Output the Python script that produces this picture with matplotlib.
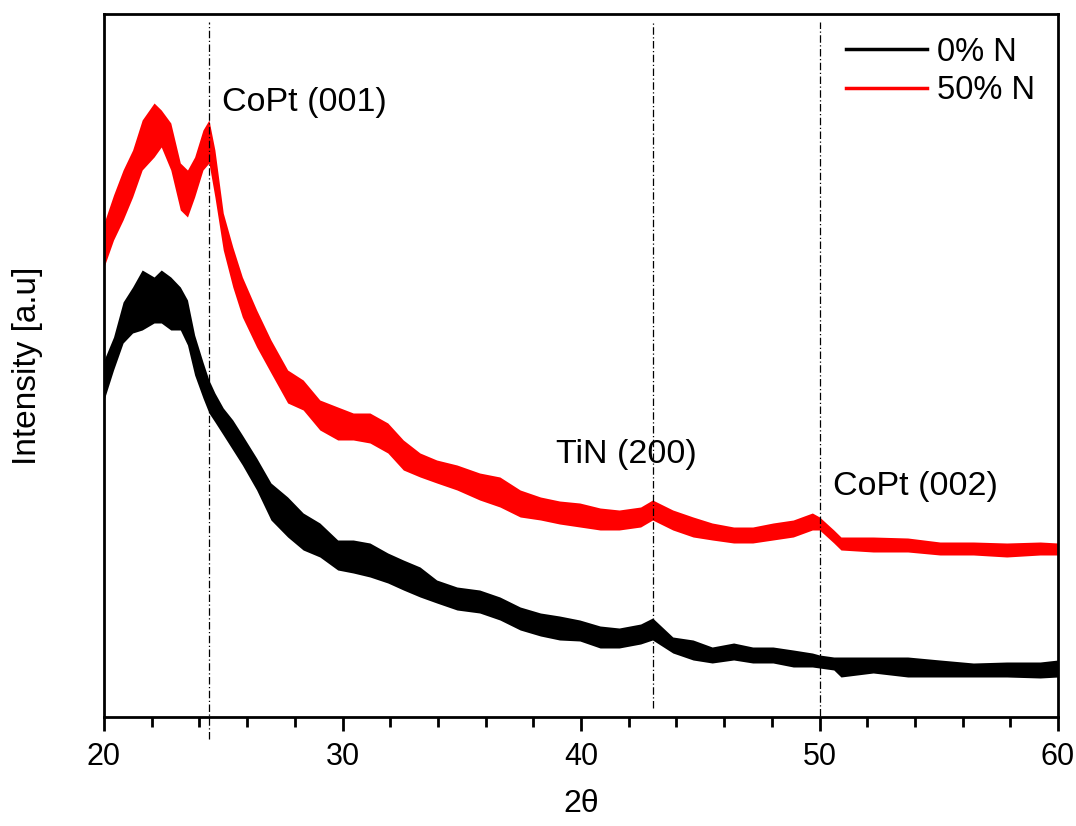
import matplotlib
matplotlib.use("Agg")
import matplotlib.pyplot as plt
from matplotlib.lines import Line2D
import numpy as np

plt.rcParams['font.family'] = ['Liberation Sans', 'DejaVu Sans']

# 2-theta sample positions (degrees)
two_theta = [20.0, 20.4, 20.8, 21.2, 21.6, 22.1, 22.4, 22.8, 23.2, 23.5, 23.8, 24.15,
             24.4, 24.65, 25.0, 25.4, 25.8, 26.4, 27.0, 27.7, 28.35, 29.05, 29.8, 30.45,
             31.15, 31.9, 32.55, 33.25, 33.95, 34.8, 35.75, 36.6, 37.45, 38.3, 39.1, 39.95,
             40.8, 41.6, 42.5, 43.0, 43.85, 44.7, 45.5, 46.4, 47.2, 48.05, 48.9, 49.7,
             50.0, 50.6, 50.9, 52.25, 53.7, 55.05, 56.45, 57.85, 59.25, 60.0]

# 50% N : upper / lower envelope of the noisy trace (a.u.)
n50_high = [494, 522, 547, 567, 597, 614, 607, 594, 554, 547, 560, 587,
            597, 567, 504, 470, 440, 407, 377, 347, 337, 317, 310, 304,
            304, 294, 277, 264, 257, 252, 244, 240, 227, 220, 216, 214,
            209, 207, 210, 217, 207, 200, 194, 190, 190, 194, 197, 204,
            200, 187, 180, 180, 179, 175, 175, 174, 175, 174]
n50_low = [450, 477, 497, 520, 547, 560, 570, 547, 507, 500, 520, 547,
           554, 520, 467, 430, 400, 370, 344, 314, 307, 287, 277, 277,
           274, 264, 247, 240, 234, 227, 217, 210, 200, 197, 193, 190,
           187, 187, 190, 197, 187, 180, 177, 174, 174, 177, 180, 187,
           187, 174, 167, 165, 165, 162, 162, 160, 162, 162]

# 0% N : upper / lower envelope of the noisy trace (a.u.)
n0_high = [357, 380, 415, 430, 447, 440, 447, 440, 430, 417, 382, 355,
           337, 324, 309, 297, 282, 259, 234, 220, 204, 194, 177, 177,
           174, 164, 157, 150, 137, 130, 127, 120, 110, 104, 101, 97,
           91, 89, 93, 99, 80, 77, 70, 74, 70, 70, 67, 64,
           62, 60, 60, 60, 60, 57, 54, 55, 55, 57]
n0_low = [317, 347, 374, 384, 387, 394, 394, 387, 387, 372, 342, 319,
          304, 295, 282, 267, 252, 227, 197, 180, 167, 160, 147, 144,
          140, 134, 127, 120, 114, 107, 104, 97, 87, 81, 77, 76,
          69, 69, 73, 77, 64, 57, 54, 57, 54, 54, 50, 50,
          49, 47, 40, 44, 40, 40, 40, 40, 39, 40]

series_labels = ['0% N', '50% N']
series_colors = ['#000000', '#ff0000']

peak_positions = [24.4, 43.0, 50.0]
peak_labels = ['CoPt (001)', 'TiN (200)', 'CoPt (002)']

fig = plt.figure(figsize=(10.76, 8.26), dpi=100)
ax = fig.add_axes([104/1076, (826-717)/826, (1058-104)/1076, (717-14)/826])

x = np.array(two_theta)
for hi, lo, col in [(n0_high, n0_low, series_colors[0]), (n50_high, n50_low, series_colors[1])]:
    hi = np.array(hi); lo = np.array(lo)
    ax.fill_between(x, lo, hi, color=col, linewidth=0)
    ax.plot(x, (hi + lo) / 2, color=col, lw=2)

# reference lines
ls = (0, (6, 2, 1, 2))
line_bottoms = [-22, 9, 1]
for p, b in zip(peak_positions, line_bottoms):
    ax.plot([p, p], [b, 695], color='black', lw=0.9, linestyle=ls, clip_on=False)

ax.text(24.95, 615, peak_labels[0], fontsize=24.5, va='center', ha='left')
ax.text(38.95, 262, peak_labels[1], fontsize=24.5, va='center', ha='left')
ax.text(50.57, 230, peak_labels[2], fontsize=24.5, va='center', ha='left')

ax.set_xlim(20, 60)
ax.set_ylim(0, 703)
ax.set_xticks([20, 30, 40, 50, 60])
ax.set_xticks(np.arange(20, 61, 2), minor=True)
ax.set_yticks([])
ax.tick_params(axis='x', which='major', length=10, width=2, labelsize=22, pad=8, direction='out')
ax.tick_params(axis='x', which='minor', length=7, width=2, direction='out')
for s in ax.spines.values():
    s.set_linewidth(2)

ax.set_xlabel('2θ', fontsize=23, labelpad=12)
ax.set_ylabel('Intensity [a.u]', fontsize=24, labelpad=44)

handles = [Line2D([], [], color=c, lw=2.5) for c in series_colors]
ax.legend(handles, series_labels, loc='upper right', bbox_to_anchor=(1.0, 1.0), frameon=False,
          fontsize=23.5, handlelength=2.5, handletextpad=0.3, labelspacing=0.22, borderaxespad=0.3)

fig.savefig('out.png', dpi=100)
